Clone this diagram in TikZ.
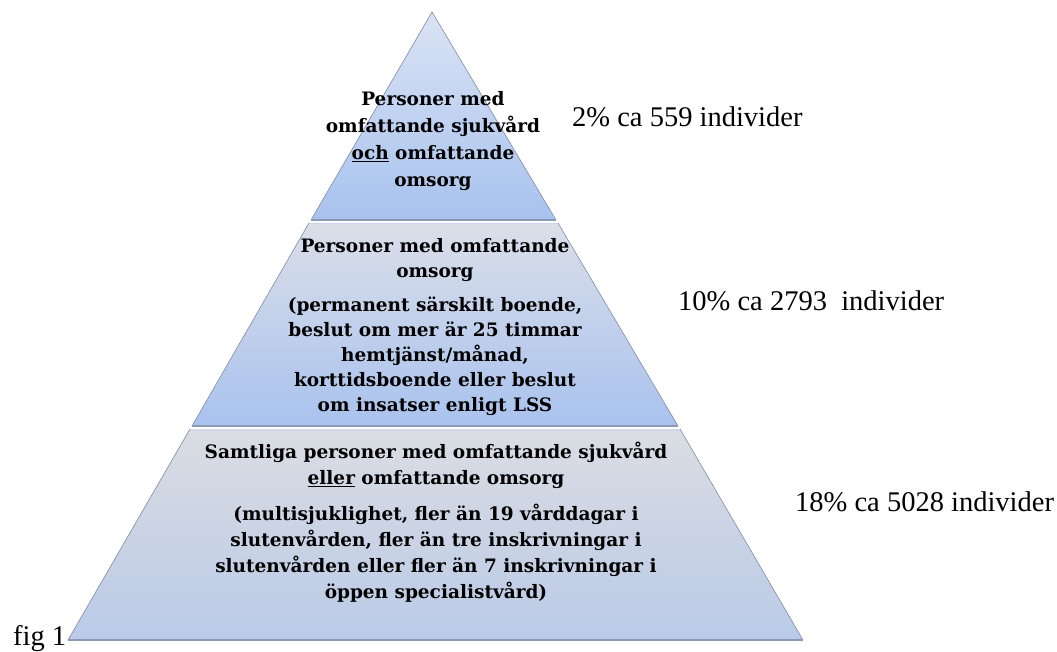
\documentclass[tikz,border=0pt]{standalone}
\usepackage{fontspec}
\setmainfont{Liberation Serif}
\newfontfamily\tierfont{DejaVu Serif}

\definecolor{topA}{HTML}{DAE3F5}
\definecolor{topB}{HTML}{A8C2EE}
\definecolor{midA}{HTML}{DADFE9}
\definecolor{midB}{HTML}{A9C2EE}
\definecolor{botA}{HTML}{DADDE3}
\definecolor{botB}{HTML}{BACAE7}
\definecolor{rim}{HTML}{8C9AB4}
\definecolor{glint}{HTML}{C9D5EC}
\definecolor{sideline}{HTML}{7D8CA6}

\begin{document}
\begin{tikzpicture}[x=1pt,y=-1pt,
  tiertext/.style={font=\tierfont\bfseries\fontsize{18.5}{25}\selectfont,
                   align=center, inner sep=0pt},
  stat/.style={font=\fontsize{28.5}{32}\selectfont, anchor=base west, inner sep=0pt},
  edge/.style={sideline, line width=0.6pt},
  rimline/.style={rim, line width=1.6pt},
  glintline/.style={glint, line width=1pt}]
\useasboundingbox (0,0) rectangle (1057,652);

% corner points of the three tiers
\coordinate (apex) at (432,12);
\coordinate (t1l) at (311,220);   \coordinate (t1r) at (556,220);
\coordinate (t2tl) at (309,223);  \coordinate (t2tr) at (558,223);
\coordinate (t2bl) at (192,426);  \coordinate (t2br) at (678,426);
\coordinate (t3tl) at (190,429);  \coordinate (t3tr) at (680,429);
\coordinate (t3bl) at (68,640);   \coordinate (t3br) at (803,640);

% bottom tier
\shade[top color=botA, bottom color=botB] (t3tl) -- (t3tr) -- (t3br) -- (t3bl) -- cycle;
\draw[edge] (t3tl) -- (t3bl);
\draw[edge] (t3tr) -- (t3br);
\draw[rimline] (t3bl) -- (t3br);
\draw[glintline] ([yshift=-1pt]t3tl) -- ([yshift=-1pt]t3tr);

% middle tier
\shade[top color=midA, bottom color=midB] (t2tl) -- (t2tr) -- (t2br) -- (t2bl) -- cycle;
\draw[edge] (t2tl) -- (t2bl);
\draw[edge] (t2tr) -- (t2br);
\draw[rimline] (t2bl) -- (t2br);
\draw[glintline] ([yshift=-1pt]t2tl) -- ([yshift=-1pt]t2tr);

% top tier
\shade[top color=topA, bottom color=topB] (apex) -- (t1r) -- (t1l) -- cycle;
\draw[edge] (t1l) -- (apex) -- (t1r);
\draw[rimline] (t1l) -- (t1r);

% tier texts
\node[tiertext, font=\tierfont\bfseries\fontsize{18.5}{27}\selectfont] (txtop) at (433,141)
  {Personer med\\omfattande sjukvård\\\underline{och} omfattande\\omsorg};
\node[tiertext] (txmid) at (435,327)
  {Personer med omfattande\\omsorg\\[9pt](permanent särskilt boende,\\beslut om mer är 25 timmar\\hemtjänst/månad,\\korttidsboende eller beslut\\om insatser enligt LSS};
\node[tiertext, font=\tierfont\bfseries\fontsize{18.5}{26}\selectfont] (txbot) at (436,522)
  {Samtliga personer med omfattande sjukvård\\\underline{eller} omfattande omsorg\\[10pt](multisjuklighet, fler än 19 vårddagar i\\slutenvården, fler än tre inskrivningar i\\slutenvården eller fler än 7 inskrivningar i\\öppen specialistvård)};

% share labels
\node[stat] (s1) at (572,127) {2\% ca 559 individer};
\node[stat] (s2) at (678,310) {10\% ca 2793 \ individer};
\node[stat] (s3) at (795,511) {18\% ca 5028 individer};
\node[stat] (fig) at (13,645) {fig 1};
\end{tikzpicture}
\end{document}
